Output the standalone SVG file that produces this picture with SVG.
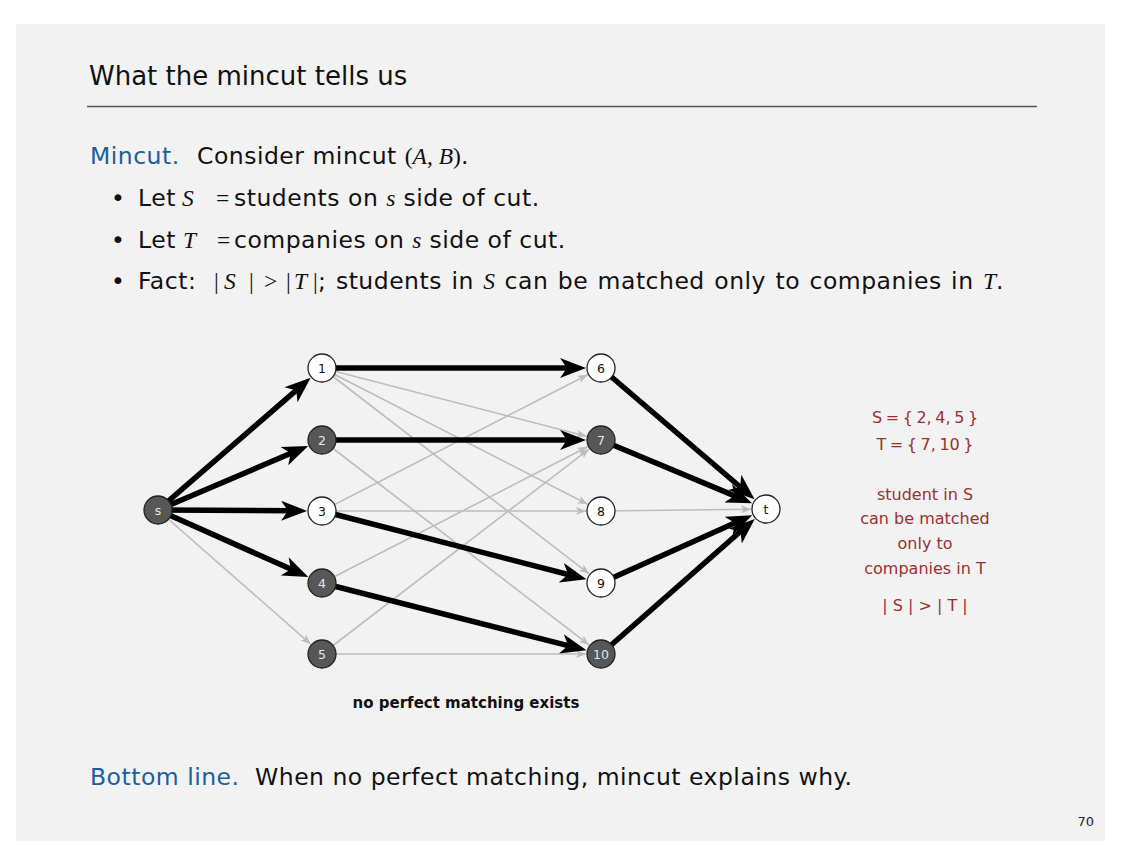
<svg xmlns="http://www.w3.org/2000/svg" width="1122" height="866" viewBox="0 0 1122 866">
<style>
.body{font-family:"DejaVu Sans","Liberation Sans",sans-serif;font-size:23.5px;letter-spacing:0.5px;fill:#111}
.blue{fill:#1d5e9c}
.m{font-family:"Liberation Serif","DejaVu Serif",serif;font-style:italic;letter-spacing:0}
.mr{font-family:"Liberation Serif","DejaVu Serif",serif;letter-spacing:0}
.thick{stroke:#000;stroke-width:5.5;fill:none}
.thin{stroke:#bdbdbd;stroke-width:1.6;fill:none}
.nw{fill:#fff;stroke:#222;stroke-width:1.3}
.nd{fill:#575757;stroke:#222;stroke-width:1.3}
.lw{font-family:"DejaVu Sans",sans-serif;font-size:12.5px;fill:#111;text-anchor:middle}
.ld{font-family:"DejaVu Sans",sans-serif;font-size:12.5px;fill:#e6e6e6;text-anchor:middle}
.red{font-family:"DejaVu Sans",sans-serif;font-size:16px;fill:#9a3030;text-anchor:middle}
</style>
<defs>
<marker id="ah" viewBox="0 0 26 20" refX="11" refY="10" markerWidth="26" markerHeight="20" markerUnits="userSpaceOnUse" orient="auto">
<path d="M0,0 L26,10 L0,20 L7,10 z" fill="#000"/>
</marker>
<marker id="ag" viewBox="0 0 10 8" refX="10" refY="4" markerWidth="10" markerHeight="8" markerUnits="userSpaceOnUse" orient="auto">
<path d="M0,0 L10,4 L0,8 L2.5,4 z" fill="#bdbdbd"/>
</marker>
</defs>
<rect x="0" y="0" width="1122" height="866" fill="#fff"/>
<rect x="16" y="24" width="1089" height="817" fill="#f2f2f2"/>
<g id="title">
<text x="89" y="85" style="font-family:'DejaVu Sans',sans-serif;font-size:26px;fill:#111">What the mincut tells us</text>
<line x1="87" y1="106.5" x2="1037" y2="106.5" stroke="#555" stroke-width="1.5"/>
</g>
<g id="text">
<text class="body" x="90" y="164"><tspan class="blue">Mincut.</tspan><tspan x="197">Consider mincut </tspan><tspan class="mr">(</tspan><tspan class="m">A</tspan><tspan class="mr">, </tspan><tspan class="m">B</tspan><tspan class="mr">)</tspan>.</text>
<text class="body" x="111" y="206">•</text>
<text class="body" x="138" y="206">Let<tspan class="m" x="182">S</tspan><tspan class="mr" x="216">=</tspan><tspan x="234">students on </tspan><tspan class="m">s</tspan> side of cut.</text>
<text class="body" x="111" y="248">•</text>
<text class="body" x="138" y="248">Let<tspan class="m" x="183">T</tspan><tspan class="mr" x="217">=</tspan><tspan x="234">companies on </tspan><tspan class="m">s</tspan> side of cut.</text>
<text class="body" x="111" y="289">•</text>
<text class="body" x="138" y="289" word-spacing="1.5">Fact:<tspan class="mr" x="214">|</tspan><tspan class="m" x="224">S</tspan><tspan class="mr" x="249">|</tspan><tspan class="mr" x="264">&gt;</tspan><tspan class="mr" x="286">|</tspan><tspan class="m" x="294">T</tspan><tspan class="mr" x="313">|</tspan><tspan x="318">; students in </tspan><tspan class="m">S</tspan> can be matched only to companies in <tspan class="m">T</tspan>.</text>
<text class="body" x="90" y="785"><tspan class="blue">Bottom line.</tspan><tspan x="255">When no perfect matching, mincut explains why.</tspan></text>
<text x="1094" y="826" style="font-family:'DejaVu Sans',sans-serif;font-size:13px;fill:#222;text-anchor:end">70</text>
<text x="466" y="708" style="font-family:'DejaVu Sans',sans-serif;font-size:15px;font-weight:bold;fill:#111;text-anchor:middle">no perfect matching exists</text>
<text class="red" x="925" y="423" word-spacing="-1.5">S = { 2, 4, 5 }</text>
<text class="red" x="925" y="450" word-spacing="-1.5">T = { 7, 10 }</text>
<text class="red" x="925" y="500">student in S</text>
<text class="red" x="925" y="524">can be matched</text>
<text class="red" x="925" y="549">only to</text>
<text class="red" x="925" y="574">companies in T</text>
<text class="red" x="925" y="611">| S | &gt; | T |</text>
</g>
<g id="connectors">
<line class="thin" x1="158" y1="510" x2="310.7" y2="644.1" marker-end="url(#ag)"/>
<line class="thin" x1="322" y1="368" x2="586.5" y2="436.3" marker-end="url(#ag)"/>
<line class="thin" x1="322" y1="368" x2="587.6" y2="504.2" marker-end="url(#ag)"/>
<line class="thin" x1="322" y1="368" x2="589.1" y2="573.8" marker-end="url(#ag)"/>
<line class="thin" x1="322" y1="440" x2="589.1" y2="644.9" marker-end="url(#ag)"/>
<line class="thin" x1="322" y1="511" x2="587.6" y2="374.8" marker-end="url(#ag)"/>
<line class="thin" x1="322" y1="511" x2="586" y2="511" marker-end="url(#ag)"/>
<line class="thin" x1="322" y1="583" x2="587.6" y2="446.8" marker-end="url(#ag)"/>
<line class="thin" x1="322" y1="654" x2="589.1" y2="449.1" marker-end="url(#ag)"/>
<line class="thin" x1="322" y1="654" x2="586" y2="654" marker-end="url(#ag)"/>
<line class="thin" x1="601" y1="511" x2="751" y2="509.2" marker-end="url(#ag)"/>
<line class="thick" x1="158" y1="510" x2="299.3" y2="387.6" marker-end="url(#ah)"/>
<line class="thick" x1="158" y1="510" x2="294.4" y2="451.8" marker-end="url(#ah)"/>
<line class="thick" x1="158" y1="510" x2="292" y2="510.8" marker-end="url(#ah)"/>
<line class="thick" x1="158" y1="510" x2="294.6" y2="570.8" marker-end="url(#ah)"/>
<line class="thick" x1="322" y1="368" x2="571" y2="368" marker-end="url(#ah)"/>
<line class="thick" x1="322" y1="440" x2="571" y2="440" marker-end="url(#ah)"/>
<line class="thick" x1="322" y1="511" x2="572" y2="575.5" marker-end="url(#ah)"/>
<line class="thick" x1="322" y1="583" x2="572" y2="646.6" marker-end="url(#ah)"/>
<line class="thick" x1="601" y1="368" x2="743.2" y2="489.5" marker-end="url(#ah)"/>
<line class="thick" x1="601" y1="440" x2="738.3" y2="497.4" marker-end="url(#ah)"/>
<line class="thick" x1="601" y1="583" x2="738.6" y2="521.3" marker-end="url(#ah)"/>
<line class="thick" x1="601" y1="654" x2="743.5" y2="528.8" marker-end="url(#ah)"/>
</g>
<g id="node-s"><circle class="nd" cx="158" cy="510" r="14"/><text class="ld" x="158" y="514.5">s</text></g>
<g id="node-1"><circle class="nw" cx="322" cy="368" r="14"/><text class="lw" x="322" y="372.5">1</text></g>
<g id="node-2"><circle class="nd" cx="322" cy="440" r="14"/><text class="ld" x="322" y="444.5">2</text></g>
<g id="node-3"><circle class="nw" cx="322" cy="511" r="14"/><text class="lw" x="322" y="515.5">3</text></g>
<g id="node-4"><circle class="nd" cx="322" cy="583" r="14"/><text class="ld" x="322" y="587.5">4</text></g>
<g id="node-5"><circle class="nd" cx="322" cy="654" r="14"/><text class="ld" x="322" y="658.5">5</text></g>
<g id="node-6"><circle class="nw" cx="601" cy="368" r="14"/><text class="lw" x="601" y="372.5">6</text></g>
<g id="node-7"><circle class="nd" cx="601" cy="440" r="14"/><text class="ld" x="601" y="444.5">7</text></g>
<g id="node-8"><circle class="nw" cx="601" cy="511" r="14"/><text class="lw" x="601" y="515.5">8</text></g>
<g id="node-9"><circle class="nw" cx="601" cy="583" r="14"/><text class="lw" x="601" y="587.5">9</text></g>
<g id="node-10"><circle class="nd" cx="601" cy="654" r="14"/><text class="ld" x="601" y="658.5">10</text></g>
<g id="node-t"><circle class="nw" cx="766" cy="509" r="14"/><text class="lw" x="766" y="513.5">t</text></g>
</svg>
